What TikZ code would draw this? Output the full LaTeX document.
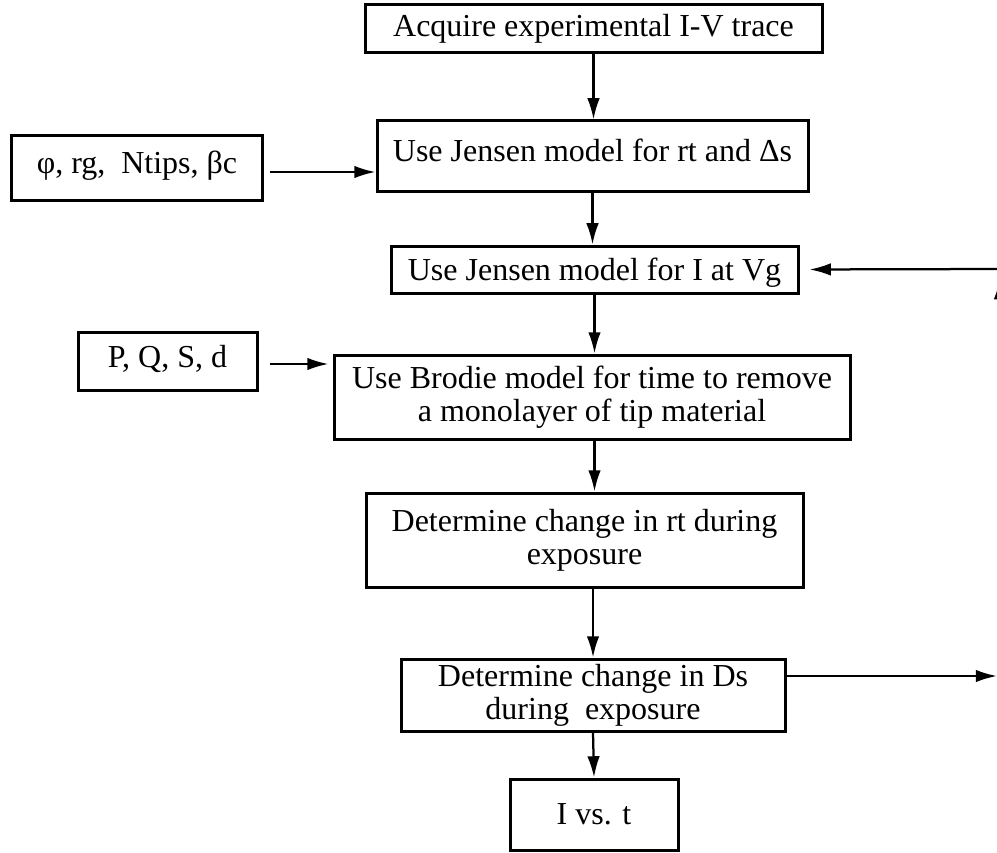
\documentclass[tikz,border=0pt]{standalone}
\usepackage{fontspec}
\setmainfont{Liberation Serif}
\usetikzlibrary{arrows.meta}
\begin{document}
\begin{tikzpicture}[x=0.4pt, y=-0.4pt, >={Latex[length=8.5pt,width=5pt]},
  blk/.style={draw, rectangle, line width=1.2pt, inner sep=0pt, align=center,
    font=\fontsize{12.8}{13.2}\selectfont},
  flow/.style={->, line width=0.9pt}]
\useasboundingbox (0,0) rectangle (997,852);
\clip (0,0) rectangle (997,852);

% Blocos principais
\node[blk, minimum width=182.8pt, minimum height=19.2pt] (acq) at (593.5,29) {Acquire experimental I-V trace};
\node[blk, minimum width=172.4pt, minimum height=28.4pt, text depth=5pt] (jenA) at (592.5,156.5) {Use Jensen model for rt and Δs};
\node[blk, minimum width=162.8pt, minimum height=18.8pt, text height=11.5pt] (jenB) at (594.5,269.5) {Use Jensen model for I at Vg};
\node[blk, minimum width=206.4pt, minimum height=33.6pt] (brodie) at (592,397) {Use Brodie model for time to remove\\a monolayer of tip material};
\node[blk, minimum width=174.8pt, minimum height=37.6pt] (rtchg) at (584.5,540) {Determine change in rt during\\exposure};
\node[blk, minimum width=153.6pt, minimum height=28.8pt] (ds) at (593,695) {Determine change in Ds\\during\ \ exposure};
\node[blk, minimum width=67.2pt, minimum height=28.4pt] (ivt) at (594,814.5) {I vs. t};

% Parametros de entrada
\node[blk, minimum width=100pt, minimum height=25.6pt, text depth=5pt] (params) at (137,168) {φ, rg,\ \ Ntips, βc};
\node[blk, minimum width=71.6pt, minimum height=23.2pt, text depth=4pt] (pqsd) at (167.5,361) {P, Q, S, d};

% Fluxo vertical
\draw[flow] (acq.south) -- (acq.south |- jenA.north);
\draw[flow] (jenA.south) -- (jenA.south |- jenB.north);
\draw[flow] (jenB.south) -- (jenB.south |- brodie.north);
\draw[flow] (jenB.south |- brodie.south) -- (jenB.south |- rtchg.north);
\draw[flow] (ds.north |- rtchg.south) -- (ds.north);
\draw[flow] (ds.south) -- (ivt.north);

% Entradas laterais
\draw[flow, shorten <=2.4pt] ([yshift=-1.6pt]params.east) -- ([yshift=-1.6pt]params.east -| jenA.west);
\draw[flow, shorten <=4.4pt, shorten >=1.6pt] ([yshift=-1.2pt]pqsd.east) -- ([yshift=-1.2pt]pqsd.east -| brodie.west);

% Realimentacao
\coordinate (outR) at (997,676);
\coordinate (upR) at (1000,278);
\coordinate (inR) at (1000,269);
\draw[flow] (ds.east |- outR) -- (outR);
\draw[flow] (upR |- outR) -- (upR);
\draw[flow, shorten >=4pt] (inR) -- (jenB.east);
\end{tikzpicture}
\end{document}
